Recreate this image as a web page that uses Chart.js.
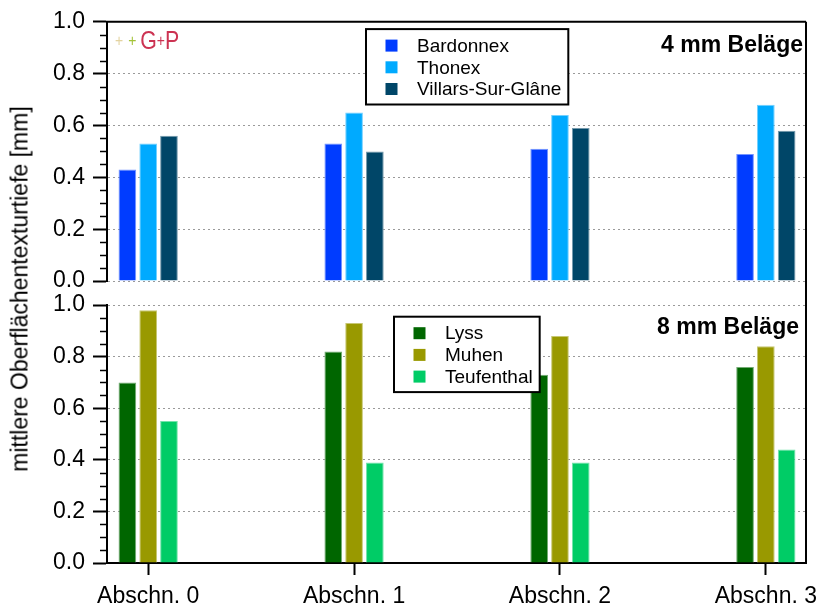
<!DOCTYPE html>
<html>
<head>
<meta charset="utf-8">
<script src="https://cdn.jsdelivr.net/npm/chart.js@4.4.0/dist/chart.umd.min.js"></script>
<style>
  body { margin: 0; background: #fff; }
  #wrap { position: relative; width: 820px; height: 608px; }
  #wrap canvas { position: absolute; left: 0; top: 0; }
  #ytitle {
    position: absolute; left: 20px; top: 289px;
    transform: translate(-50%, -50%) rotate(-90deg);
    font: 23px 'Liberation Sans', Arial, sans-serif;
    white-space: nowrap; color: #000;
  }
</style>
</head>
<body>
<div id="wrap">
  <canvas id="oben" width="820" height="608"></canvas>
  <canvas id="unten" width="820" height="608"></canvas>
  <div id="ytitle">mittlere Oberflächentexturtiefe [mm]</div>
</div>
<script>
// Daten
const categories = ['Abschn. 0', 'Abschn. 1', 'Abschn. 2', 'Abschn. 3'];
const yTicks = [0, 0.2, 0.4, 0.6, 0.8, 1.0];

// 4 mm Beläge
const bardonnex = [0.43, 0.53, 0.51, 0.49];
const thonex = [0.53, 0.65, 0.64, 0.68];
const villars = [0.56, 0.50, 0.59, 0.58];

// 8 mm Beläge
const lyss = [0.70, 0.82, 0.73, 0.76];
const muhen = [0.98, 0.93, 0.88, 0.84];
const teufenthal = [0.55, 0.39, 0.39, 0.44];

const FONT = "'Liberation Sans', Arial, sans-serif";

// hellere Randfarbe
function lighten(hex, amt) {
  const n = parseInt(hex.slice(1), 16);
  const r = (n >> 16) & 255, g = (n >> 8) & 255, b = n & 255;
  const m = c => Math.round(c + (255 - c) * amt);
  return 'rgb(' + m(r) + ',' + m(g) + ',' + m(b) + ')';
}

function bars(label, values, color) {
  return {
    label: label,
    data: values.map((v, i) => ({ x: i, y: v })),
    backgroundColor: color,
    borderColor: lighten(color, 0.45),
    borderWidth: 1
  };
}

// Rahmen, Nebenteilstriche, Legende, Beschriftung
function panelPlugin(opts) {
  return {
    id: 'panel',
    afterDraw(chart) {
      const ctx = chart.ctx;
      const area = chart.chartArea;
      const y = chart.scales.y;
      ctx.save();

      ctx.strokeStyle = '#000';
      ctx.lineWidth = 1.5;
      for (let k = 1; k < 20; k++) {
        if (k % 4 === 0) continue;
        const py = Math.round(y.getPixelForValue(k * 0.05)) + 0.5;
        ctx.beginPath();
        ctx.moveTo(area.left - 7, py);
        ctx.lineTo(area.left, py);
        ctx.stroke();
      }

      ctx.lineWidth = 2;
      ctx.beginPath();
      if (opts.topLine) {
        ctx.moveTo(area.left - 1, area.top);
        ctx.lineTo(area.right, area.top);
      }
      ctx.moveTo(area.right, opts.frameTop ? opts.frameTop() : area.top);
      ctx.lineTo(area.right, area.bottom);
      ctx.stroke();

      // Beschriftung rechts oben
      ctx.fillStyle = '#000';
      ctx.font = 'bold 23px ' + FONT;
      ctx.textAlign = 'right';
      ctx.textBaseline = 'middle';
      ctx.fillText(opts.label, area.right - opts.labelDx, area.top + opts.labelDy);

      // Logo
      if (opts.logo) {
        let lx = area.left + 8;
        const ly = area.top + 20;
        ctx.textAlign = 'left';
        const parts = [
          ['+', '#e3d3a0', 17, 5],
          ['+', '#a3c236', 17, 4],
          ['G', '#cc3352', 26, 0],
          ['+', '#cc3352', 17, 0],
          ['P', '#cc3352', 26, 0]
        ];
        parts.forEach(p => {
          ctx.font = p[2] + 'px ' + FONT;
          ctx.fillStyle = p[1];
          ctx.save();
          ctx.translate(lx, ly);
          ctx.scale(0.82, 1);
          ctx.fillText(p[0], 0, 0);
          ctx.restore();
          lx += ctx.measureText(p[0]).width * 0.82 + p[3];
        });
      }

      // Legende
      const items = chart.data.datasets;
      ctx.font = '19px ' + FONT;
      const maxW = Math.max(...items.map(d => ctx.measureText(d.label).width));
      const rowH = 21.7;
      const bx = area.left + opts.legendDx;
      const by = area.top + opts.legendDy;
      const bw = 51 + maxW + 7;
      const bh = 32 + rowH * (items.length - 1);
      ctx.fillStyle = '#fff';
      ctx.fillRect(bx, by, bw, bh);
      ctx.strokeStyle = '#000';
      ctx.lineWidth = 2;
      ctx.strokeRect(bx, by, bw, bh);
      items.forEach((d, i) => {
        const cy = by + 16.5 + i * rowH;
        ctx.fillStyle = d.backgroundColor;
        ctx.fillRect(bx + 19.5, cy - 6, 12, 12);
        ctx.fillStyle = '#000';
        ctx.textAlign = 'left';
        ctx.textBaseline = 'middle';
        ctx.fillText(d.label, bx + 51, cy + 1);
      });

      ctx.restore();
    }
  };
}

function makeChart(id, datasets, opts) {
  return new Chart(document.getElementById(id), {
    type: 'bar',
    data: { datasets: datasets },
    options: {
      responsive: false,
      animation: false,
      devicePixelRatio: 1,
      layout: { padding: opts.padding },
      datasets: { bar: { categoryPercentage: 0.303, barPercentage: 0.85 } },
      plugins: { legend: { display: false }, tooltip: { enabled: false } },
      scales: {
        x: {
          type: 'linear',
          min: -0.2,
          max: 3.195,
          offset: false,
          afterBuildTicks: s => { s.ticks = categories.map((c, i) => ({ value: i })); },
          afterFit: s => {
            s.height = opts.xHeight;
            s.paddingLeft = 0;
            s.paddingRight = 0;
          },
          grid: {
            display: opts.showX, drawOnChartArea: false, offset: false,
            tickLength: 12, tickWidth: 2, tickColor: '#000'
          },
          border: { display: opts.showX, color: '#000', width: 2 },
          ticks: {
            display: opts.showX, autoSkip: false, maxRotation: 0, padding: 8,
            color: '#000', font: { size: 23, family: FONT },
            callback: v => categories[v]
          }
        },
        y: {
          min: 0,
          max: 1,
          afterBuildTicks: s => { s.ticks = yTicks.map(v => ({ value: v })); },
          afterFit: s => { s.width = 107; },
          grid: { color: '#9a9a9a', lineWidth: 1, tickLength: 14, tickWidth: 2, tickColor: '#000' },
          border: { display: true, color: '#000', width: 2, dash: [2, 3] },
          ticks: {
            padding: 8, color: '#000', font: { size: 23, family: FONT },
            callback: v => v.toFixed(1)
          }
        }
      }
    },
    plugins: [panelPlugin(opts)]
  });
}

const topChart = makeChart('oben', [
  bars('Bardonnex', bardonnex, '#003cff'),
  bars('Thonex', thonex, '#00aaff'),
  bars('Villars-Sur-Glâne', villars, '#004668')
], {
  padding: { top: 21, right: 14, bottom: 327, left: 0 },
  xHeight: 0, showX: false, topLine: true,
  label: '4 mm Beläge', labelDx: 3, labelDy: 24,
  legendDx: 259, legendDy: 7.3, logo: true
});

const bottomChart = makeChart('unten', [
  bars('Lyss', lyss, '#006600'),
  bars('Muhen', muhen, '#999900'),
  bars('Teufenthal', teufenthal, '#00cc66')
], {
  padding: { top: 305, right: 14, bottom: 0, left: 0 },
  xHeight: 45, showX: true, topLine: false,
  frameTop: () => topChart.chartArea.bottom,
  label: '8 mm Beläge', labelDx: 7, labelDy: 22.3,
  legendDx: 287, legendDy: 11.7, logo: false
});
</script>
</body>
</html>
